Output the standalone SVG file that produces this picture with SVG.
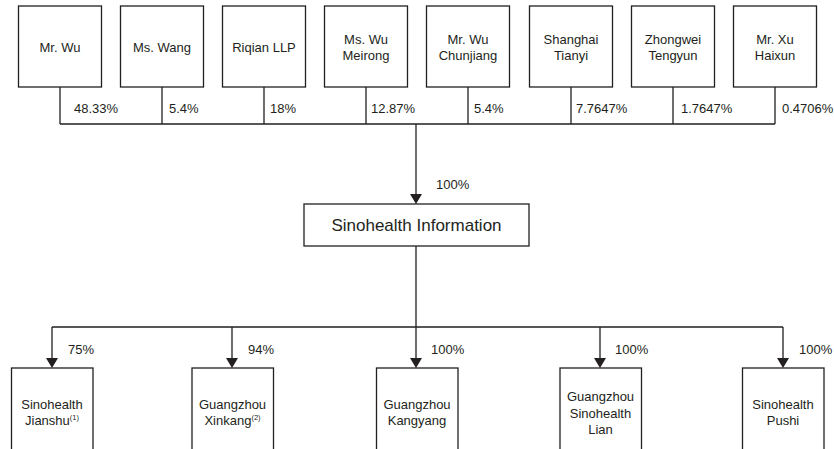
<svg xmlns="http://www.w3.org/2000/svg" width="834" height="449" viewBox="0 0 834 449">
  <defs>
    <style>
      .box { fill: #ffffff; stroke: #231f20; stroke-width: 1.3; }
      .ln { fill: none; stroke: #231f20; stroke-width: 1.3; }
      .t { font-family: "Liberation Sans", Arial, sans-serif; font-size: 13px; fill: #231f20; }
      .c { text-anchor: middle; }
      .big { font-family: "Liberation Sans", Arial, sans-serif; font-size: 17px; fill: #231f20; text-anchor: middle; }
      .sup { font-size: 7.5px; }
    </style>
    <marker id="arr" markerWidth="12" markerHeight="10" refX="6" refY="10" orient="auto-start-reverse" markerUnits="userSpaceOnUse" viewBox="0 0 12 10">
      <path d="M0,0 L12,0 L6,10 Z" fill="#231f20"/>
    </marker>
  </defs>
  <rect width="834" height="449" fill="#ffffff"/>

  <g id="connectors">
    <path class="ln" d="M60,87 V124 M162,87 V124 M264,87 V124 M366,87 V124 M468,87 V124 M571,87 V124 M673,87 V124 M775,87 V124 M60,124 H775"/>
    <path class="ln" d="M416,124 V194"/>
    <path d="M410,194 L422,194 L416,204 Z" fill="#231f20"/>
    <path class="ln" d="M416,246 V327 M52,327 H783"/>
    <path class="ln" d="M52,327 V358 M232,327 V358 M416,327 V358 M600,327 V358 M783,327 V358"/>
    <path d="M46,358 L58,358 L52,368 Z M226,358 L238,358 L232,368 Z M410,358 L422,358 L416,368 Z M594,358 L606,358 L600,368 Z M777,358 L789,358 L783,368 Z" fill="#231f20"/>
    <g class="t">
      <text x="74" y="113">48.33%</text>
      <text x="169" y="113">5.4%</text>
      <text x="270" y="113">18%</text>
      <text x="371" y="113">12.87%</text>
      <text x="474" y="113">5.4%</text>
      <text x="576" y="113">7.7647%</text>
      <text x="681" y="113">1.7647%</text>
      <text x="782" y="113">0.4706%</text>
      <text x="436" y="189">100%</text>
      <text x="68" y="354">75%</text>
      <text x="248" y="354">94%</text>
      <text x="431" y="354">100%</text>
      <text x="615" y="354">100%</text>
      <text x="799" y="354">100%</text>
    </g>
  </g>

  <g id="mr-wu"><rect class="box" x="18.5" y="6" width="83" height="81"/><text class="t c" x="60" y="52">Mr. Wu</text></g>
  <g id="ms-wang"><rect class="box" x="120.5" y="6" width="83" height="81"/><text class="t c" x="162" y="52">Ms. Wang</text></g>
  <g id="riqian"><rect class="box" x="222.5" y="6" width="83" height="81"/><text class="t c" x="264" y="52">Riqian LLP</text></g>
  <g id="ms-wu-meirong"><rect class="box" x="324.5" y="6" width="83" height="81"/><text class="t c" x="366" y="44">Ms. Wu<tspan x="366" dy="16">Meirong</tspan></text></g>
  <g id="mr-wu-chunjiang"><rect class="box" x="426.5" y="6" width="83" height="81"/><text class="t c" x="468" y="44">Mr. Wu<tspan x="468" dy="16">Chunjiang</tspan></text></g>
  <g id="shanghai-tianyi"><rect class="box" x="529.5" y="6" width="83" height="81"/><text class="t c" x="571" y="44">Shanghai<tspan x="571" dy="16">Tianyi</tspan></text></g>
  <g id="zhongwei-tengyun"><rect class="box" x="631.5" y="6" width="83" height="81"/><text class="t c" x="673" y="44">Zhongwei<tspan x="673" dy="16">Tengyun</tspan></text></g>
  <g id="mr-xu-haixun"><rect class="box" x="733.5" y="6" width="83" height="81"/><text class="t c" x="775" y="44">Mr. Xu<tspan x="775" dy="16">Haixun</tspan></text></g>

  <g id="sinohealth-information"><rect class="box" x="304" y="204" width="225" height="42"/><text class="big" x="416.5" y="231">Sinohealth Information</text></g>

  <g id="sinohealth-jianshu"><rect class="box" x="11.5" y="368" width="81.5" height="90"/><text class="t c" x="52" y="409">Sinohealth</text><text class="t c" x="52" y="425">Jianshu<tspan class="sup" dy="-5">(1)</tspan></text></g>
  <g id="guangzhou-xinkang"><rect class="box" x="192" y="368" width="81.5" height="90"/><text class="t c" x="232.5" y="409">Guangzhou</text><text class="t c" x="232.5" y="425">Xinkang<tspan class="sup" dy="-5">(2)</tspan></text></g>
  <g id="guangzhou-kangyang"><rect class="box" x="376.5" y="368" width="81.5" height="90"/><text class="t c" x="417" y="409">Guangzhou<tspan x="417" dy="16">Kangyang</tspan></text></g>
  <g id="guangzhou-sinohealth-lian"><rect class="box" x="560" y="368" width="81.5" height="90"/><text class="t c" x="600.5" y="401">Guangzhou<tspan x="600.5" dy="16.5">Sinohealth</tspan><tspan x="600.5" dy="16.5">Lian</tspan></text></g>
  <g id="sinohealth-pushi"><rect class="box" x="742.5" y="368" width="81.5" height="90"/><text class="t c" x="783" y="409">Sinohealth<tspan x="783" dy="16">Pushi</tspan></text></g>
</svg>
